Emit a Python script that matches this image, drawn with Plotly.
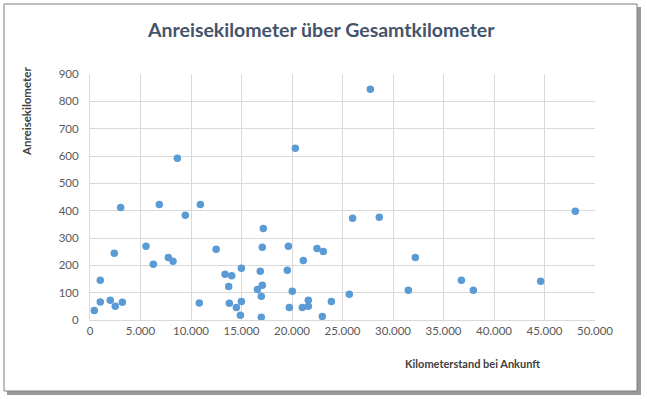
import plotly.graph_objects as go

# Data
km_total = [426, 1020, 1020, 2010, 2505, 2406, 3040, 3200, 5545, 6270,
            6860, 7755, 8218, 9440, 8650, 10825, 10925, 12490, 17160, 17060,
            19640, 22475, 23100, 26000, 28640, 32210, 21120, 13370, 14030, 14990,
            16860, 19535, 13730, 16570, 17060, 16960, 20030, 25675, 31520, 13795,
            14990, 14490, 14890, 16960, 19735, 21020, 21615, 21615, 23895, 23000,
            27755, 20330, 36770, 37955, 44620, 48050]
km_travel = [35, 145, 66, 72, 50, 244, 412, 65, 270, 204,
             423, 229, 215, 383, 592, 62, 423, 259, 335, 266,
             270, 262, 251, 372, 376, 229, 218, 167, 162, 189,
             178, 182, 123, 112, 127, 87, 105, 94, 109, 61,
             68, 46, 17, 10, 46, 46, 72, 50, 68, 13,
             844, 628, 145, 109, 142, 398]

W, H = 647, 399
L, R, T, B = 90, 595, 74, 320  # plot area in pixels


def px(x):
    return (x - L) / (R - L)


def py(y):
    return (B - y) / (B - T)


FONT = "Lato, 'Open Sans', sans-serif"

fig = go.Figure(go.Scatter(
    x=km_total, y=km_travel, mode="markers",
    marker=dict(color="#5B9BD5", size=7.5, line=dict(width=0)),
    hoverinfo="x+y",
))

fig.update_layout(
    width=W, height=H,
    margin=dict(l=L, r=W - R, t=T, b=H - B),
    paper_bgcolor="white",
    plot_bgcolor="rgba(0,0,0,0)",
    separators=",.",
    showlegend=False,
    font=dict(family=FONT, size=11.5, color="#595959"),
    xaxis=dict(
        range=[0, 50000], dtick=5000, tickformat=",d",
        showgrid=True, gridcolor="#D9D9D9", gridwidth=1,
        zeroline=False, showline=True, linecolor="#D9D9D9",
        ticks="", tickfont=dict(size=11.5, color="#595959"),
        fixedrange=True,
    ),
    yaxis=dict(
        range=[0, 900], dtick=100,
        showgrid=True, gridcolor="#D9D9D9", gridwidth=1,
        zeroline=False, showline=True, linecolor="#D9D9D9",
        ticks="", ticklabelstandoff=8, tickfont=dict(size=11.5, color="#595959"),
        fixedrange=True,
    ),
    shapes=[
        dict(type="rect", xref="paper", yref="paper", layer="below",
             x0=px(7), x1=px(641), y0=py(7), y1=py(395),
             fillcolor="#9A9A9A", line=dict(width=0)),
        dict(type="rect", xref="paper", yref="paper", layer="below",
             x0=px(4), x1=px(637), y0=py(4), y1=py(391),
             fillcolor="white", line=dict(color="#7F7F7F", width=1)),
    ],
    annotations=[
        dict(text="Anreisekilometer über Gesamtkilometer", xref="paper", yref="paper",
             x=px(321), y=py(30), xanchor="center", yanchor="middle", showarrow=False,
             font=dict(family=FONT, size=19.5, color="#44546A", weight="bold")),
        dict(text="Anreisekilometer", xref="paper", yref="paper",
             x=px(27), y=py(112), xanchor="center", yanchor="middle", showarrow=False,
             textangle=-90,
             font=dict(family=FONT, size=11.5, color="#404040", weight="bold")),
        dict(text="Kilometerstand bei Ankunft", xref="paper", yref="paper",
             x=px(472), y=py(363), xanchor="center", yanchor="middle", showarrow=False,
             font=dict(family=FONT, size=11, color="#404040", weight="bold")),
    ],
)

fig.write_html("out.html",
               config={"displayModeBar": False},
               post_script="document.body.style.margin='0';document.body.style.overflow='hidden';")
